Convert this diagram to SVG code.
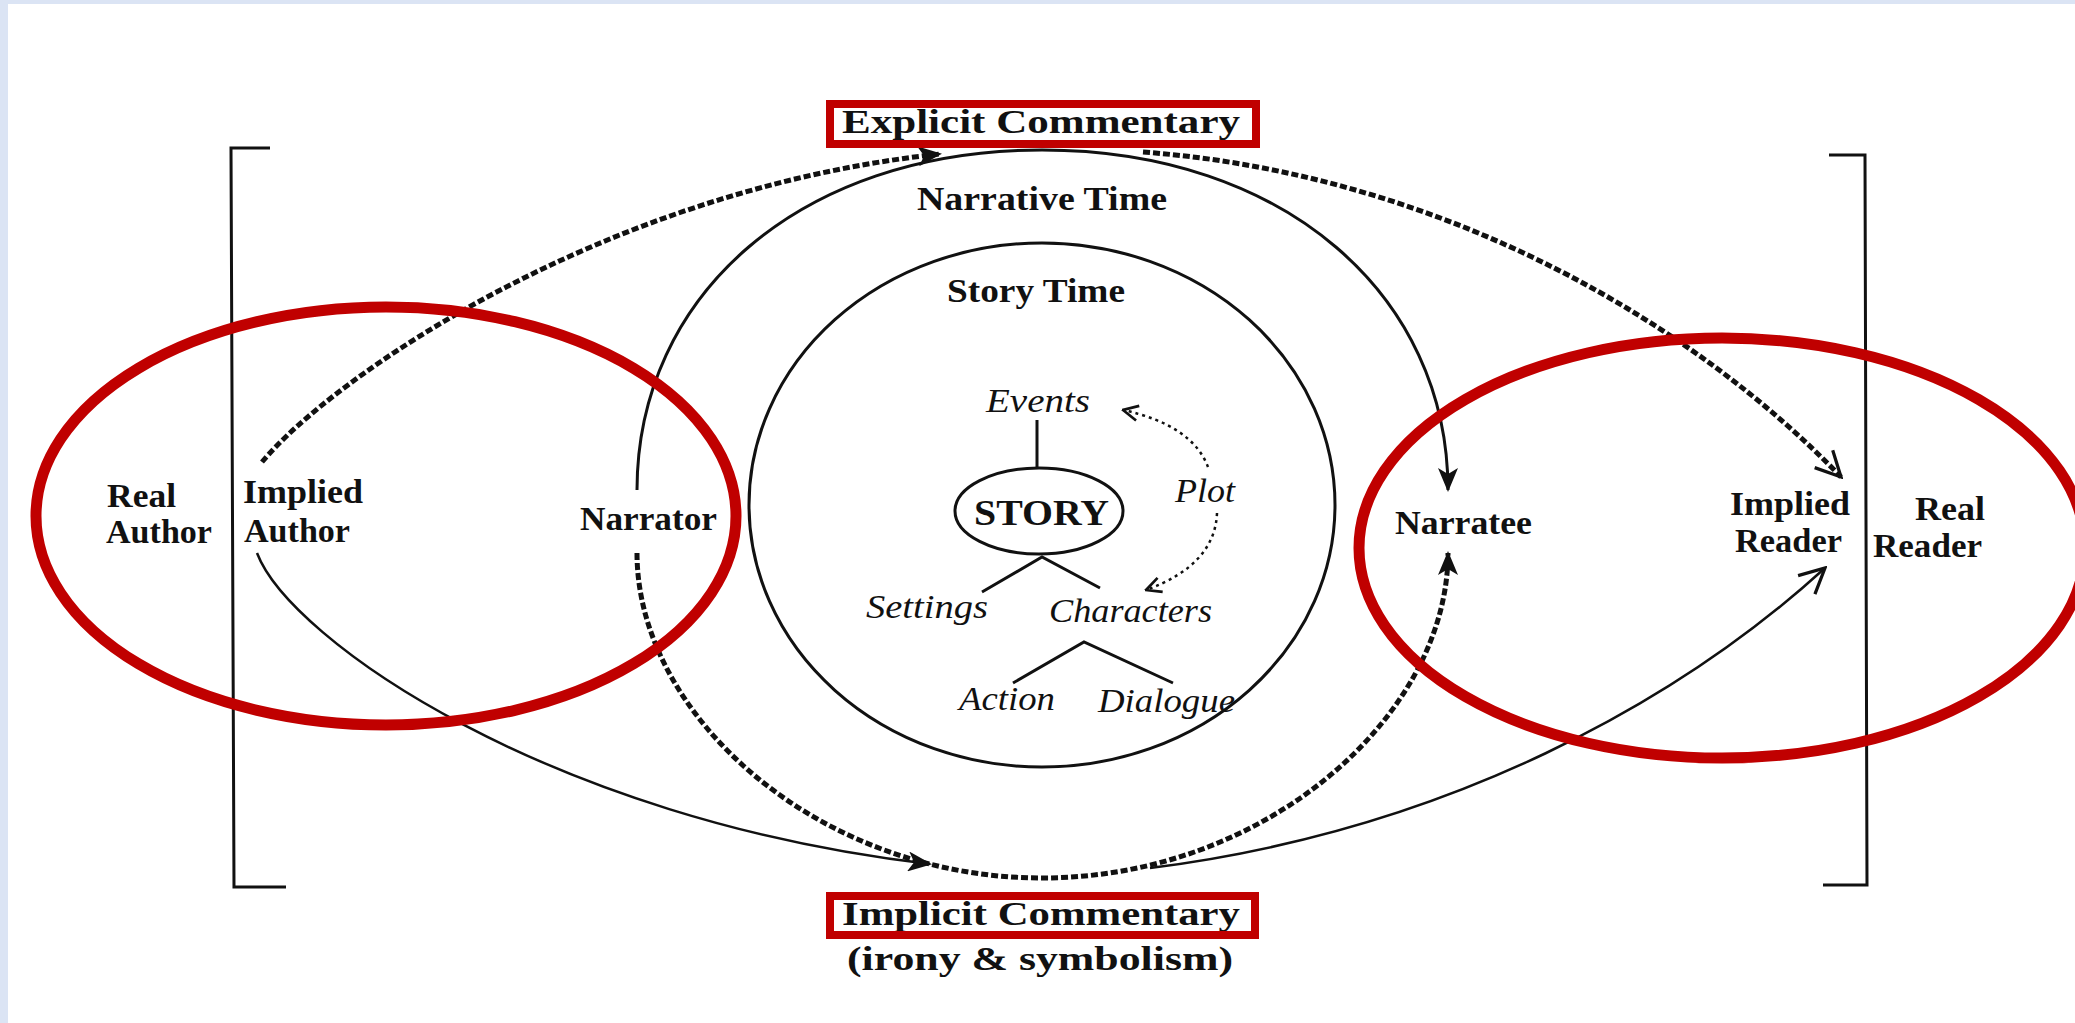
<svg xmlns="http://www.w3.org/2000/svg" width="2075" height="1023" viewBox="0 0 2075 1023">
<style>
.lbl{font-family:"Liberation Serif","Times New Roman",serif;font-size:34px;font-weight:bold;fill:#111}
.it{font-family:"Liberation Serif","Times New Roman",serif;font-size:34px;font-style:italic;fill:#111}
.reg{font-family:"Liberation Serif","Times New Roman",serif;font-size:36px;font-weight:bold;fill:#111}
.ln{fill:none;stroke:#111;stroke-width:3}
.thin{fill:none;stroke:#111;stroke-width:2.5}
.dash{fill:none;stroke:#111;stroke-width:5;stroke-dasharray:7 3}
.dot{fill:none;stroke:#111;stroke-width:2.5;stroke-dasharray:3 4}
.red{fill:none;stroke:#C00000}
</style>
<defs>
<marker id="af" viewBox="0 0 12 10" refX="11" refY="5" markerUnits="userSpaceOnUse" markerWidth="26" markerHeight="20" orient="auto">
<path d="M0,0 L12,5 L0,10 L3,5 z" fill="#111"/>
</marker>
<marker id="ao" viewBox="0 0 12 12" refX="11" refY="6" markerUnits="userSpaceOnUse" markerWidth="30" markerHeight="30" orient="auto">
<path d="M1,1 L11,6 L1,11" fill="none" stroke="#111" stroke-width="1.3"/>
</marker>
<marker id="as" viewBox="0 0 12 12" refX="11" refY="6" markerUnits="userSpaceOnUse" markerWidth="18" markerHeight="18" orient="auto">
<path d="M1,1 L11,6 L1,11" fill="none" stroke="#111" stroke-width="1.8"/>
</marker>
</defs>
<rect x="0" y="0" width="2075" height="1023" fill="#fff"/>
<rect x="0" y="0" width="2075" height="4" fill="#dbe4f4"/>
<rect x="0" y="0" width="8" height="1023" fill="#dbe4f4"/>

<g id="brackets">
<path class="ln" d="M270,148 H231 L234,887 H286"/>
<path class="ln" d="M1829,155 H1865 L1867,885 H1823"/>
</g>

<g id="story-time-circle">
<ellipse class="ln" cx="1042" cy="505" rx="293" ry="262"/>
</g>

<g id="connectors">
<path class="ln" d="M637,490 C637,296 799,150 1042,150 C1285,150 1448,296 1448,490" marker-end="url(#af)"/>
<path class="dash" d="M637,553 C637,716 819,878 1042,878 C1265,878 1448,716 1448,553" marker-end="url(#af)"/>
<path class="dash" d="M262,462 C330,380 600,190 940,154" marker-end="url(#af)"/>
<path class="dash" d="M1143,152 C1450,175 1700,330 1841,477" marker-end="url(#ao)"/>
<path class="thin" d="M257,553 C290,640 550,820 930,864" marker-end="url(#af)"/>
<path class="thin" d="M1150,868 C1450,830 1680,700 1825,568" marker-end="url(#ao)"/>
<path class="dot" d="M1208,467 Q1192,425 1123,410" marker-end="url(#as)"/>
<path class="dot" d="M1217,513 Q1215,565 1146,590" marker-end="url(#as)"/>
<path class="ln" d="M1037,420 V468"/>
<path class="ln" d="M982,592 L1042,557 L1100,588"/>
<path class="ln" d="M1013,683 L1084,642 L1173,683"/>
</g>

<g id="real-author">
<text class="lbl" x="107" y="507" textLength="69" lengthAdjust="spacingAndGlyphs">Real</text>
<text class="lbl" x="106" y="543" textLength="106" lengthAdjust="spacingAndGlyphs">Author</text>
</g>
<g id="implied-author">
<text class="lbl" x="243" y="503" textLength="120" lengthAdjust="spacingAndGlyphs">Implied</text>
<text class="lbl" x="244" y="542" textLength="106" lengthAdjust="spacingAndGlyphs">Author</text>
</g>
<g id="narrator">
<text class="lbl" x="580" y="530" textLength="137" lengthAdjust="spacingAndGlyphs">Narrator</text>
</g>
<g id="narratee">
<text class="lbl" x="1395" y="534" textLength="137" lengthAdjust="spacingAndGlyphs">Narratee</text>
</g>
<g id="implied-reader">
<text class="lbl" x="1730" y="515" textLength="120" lengthAdjust="spacingAndGlyphs">Implied</text>
<text class="lbl" x="1735" y="552" textLength="107" lengthAdjust="spacingAndGlyphs">Reader</text>
</g>
<g id="real-reader">
<text class="lbl" x="1915" y="520" textLength="70" lengthAdjust="spacingAndGlyphs">Real</text>
<text class="lbl" x="1873" y="557" textLength="109" lengthAdjust="spacingAndGlyphs">Reader</text>
</g>
<g id="narrative-time">
<text class="lbl" x="917" y="210" textLength="250" lengthAdjust="spacingAndGlyphs">Narrative Time</text>
</g>
<g id="story-time">
<text class="lbl" x="947" y="302" textLength="178" lengthAdjust="spacingAndGlyphs">Story Time</text>
</g>
<g id="explicit-commentary">
<text class="lbl" x="842" y="133" textLength="398" lengthAdjust="spacingAndGlyphs">Explicit Commentary</text>
</g>
<g id="implicit-commentary">
<text class="lbl" x="842" y="925" textLength="398" lengthAdjust="spacingAndGlyphs">Implicit Commentary</text>
<text class="lbl" x="847" y="970" textLength="386" lengthAdjust="spacingAndGlyphs">(irony &amp; symbolism)</text>
</g>
<g id="story">
<ellipse class="ln" cx="1039" cy="511" rx="84" ry="43"/>
<text class="reg" x="974" y="525" textLength="135" lengthAdjust="spacingAndGlyphs">STORY</text>
</g>
<g id="events">
<text class="it" x="986" y="412" textLength="104" lengthAdjust="spacingAndGlyphs">Events</text>
</g>
<g id="plot">
<text class="it" x="1175" y="502" textLength="60" lengthAdjust="spacingAndGlyphs">Plot</text>
</g>
<g id="settings">
<text class="it" x="866" y="618" textLength="122" lengthAdjust="spacingAndGlyphs">Settings</text>
</g>
<g id="characters">
<text class="it" x="1049" y="622" textLength="163" lengthAdjust="spacingAndGlyphs">Characters</text>
</g>
<g id="action">
<text class="it" x="959" y="710" textLength="96" lengthAdjust="spacingAndGlyphs">Action</text>
</g>
<g id="dialogue">
<text class="it" x="1098" y="712" textLength="137" lengthAdjust="spacingAndGlyphs">Dialogue</text>
</g>

<g id="highlights">
<rect class="red" x="830" y="104" width="426" height="40" stroke-width="8"/>
<rect class="red" x="830" y="896" width="425" height="39" stroke-width="8"/>
<ellipse class="red" cx="386" cy="516" rx="350" ry="209" stroke-width="11"/>
<ellipse class="red" cx="1722" cy="548" rx="363" ry="210" stroke-width="11"/>
</g>
</svg>
